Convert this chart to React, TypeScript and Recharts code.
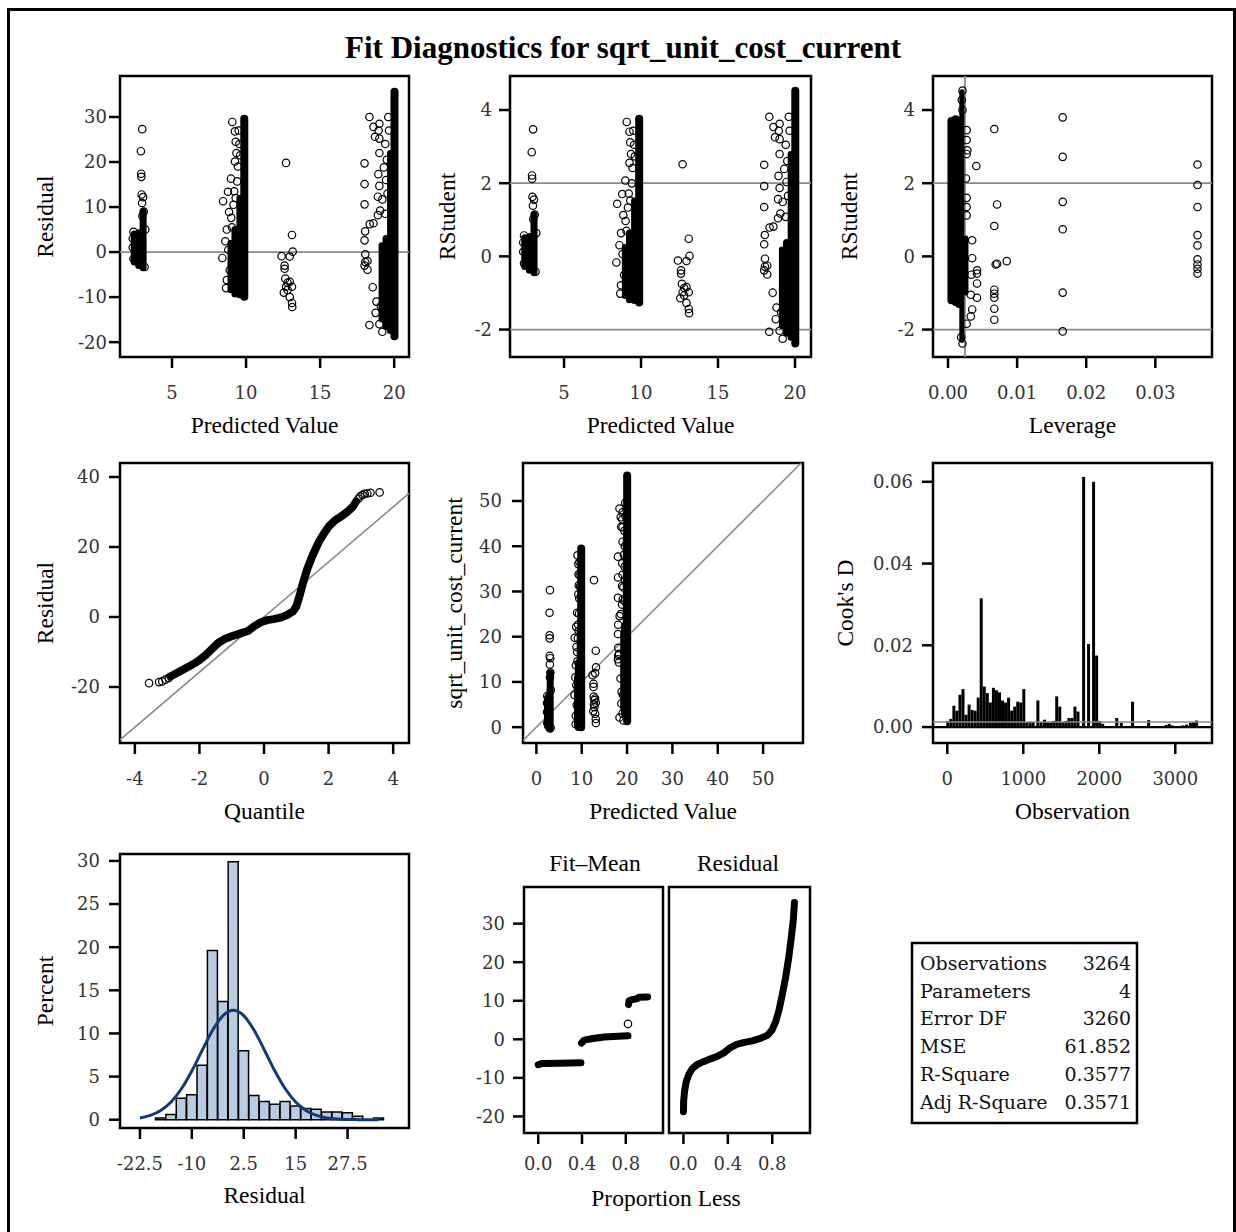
import React from 'react';
import {
  Bar,
  ComposedChart,
  Line,
  ReferenceArea,
  ReferenceLine,
  Scatter,
  ScatterChart,
  XAxis,
  YAxis,
} from 'recharts';

type Pt = [number, number];
// dense column of overlapping markers: x, low, high, stroke width
type Band = [number, number, number, number];

// ---------- fit statistics ----------
const statLabels = ['Observations', 'Parameters', 'Error DF', 'MSE', 'R-Square', 'Adj R-Square'];
const statValues = ['3264', '4', '3260', '61.852', '0.3577', '0.3571'];
const mse = 61.852;
const rootMse = Math.sqrt(mse);
const leverageCutoff = 0.00245;
const cookCutoff = 0.001225;

// ---------- tick values ----------
const predTicks = [5, 10, 15, 20];
const residTicks = [-20, -10, 0, 10, 20, 30];
const rstudTicks = [-2, 0, 2, 4];
const levTicks = [0, 0.01, 0.02, 0.03];
const qTicks = [-4, -2, 0, 2, 4];
const qqTicks = [-20, 0, 20, 40];
const obsTicks = [0, 10, 20, 30, 40, 50];
const cookXTicks = [0, 1000, 2000, 3000];
const cookYTicks = [0, 0.02, 0.04, 0.06];
const histXTicks = [-22.5, -10, 2.5, 15, 27.5];
const histYTicks = [0, 5, 10, 15, 20, 25, 30];
const propTicks = [0, 0.4, 0.8];
const spreadTicks = [-20, -10, 0, 10, 20, 30];

// ---------- residual by predicted value ----------
const residDense: Band[] = [
  [2.45, -2.2, 4.0, 7],
  [2.75, -3.0, 4.3, 7],
  [3.05, -3.5, 9.0, 7],
  [8.95, -8.5, 2.0, 6],
  [9.25, -9.3, 5.0, 7],
  [9.55, -9.6, 12.0, 6],
  [9.88, -9.9, 29.6, 8],
  [19.15, -15.0, 1.5, 6],
  [19.45, -16.5, 3.0, 7],
  [19.72, -17.5, 22.0, 6],
  [20.02, -18.7, 35.6, 8],
];
const residSparse: Pt[] = [
  [2.99, 27.3], [2.9, 22.4], [2.92, 17.4], [2.93, 16.7], [2.95, 12.8], [3.05, 12.2],
  [2.98, 10.9], [3.1, 9.0], [3.0, 8.0], [2.4, 4.5], [2.35, 3.0], [2.35, 1.0],
  [2.4, -1.5], [3.2, 5.0], [3.15, -3.3],
  [9.07, 28.9], [9.25, 26.8], [9.3, 24.5], [9.35, 22.0], [9.25, 20.1], [8.98, 16.3],
  [9.4, 15.7], [8.45, 11.3], [8.78, 13.4], [8.85, 8.9], [9.0, 7.6], [8.7, 5.0],
  [8.6, 2.4], [8.4, -1.3], [8.7, -6.2], [8.65, -8.0], [9.5, 27.0], [9.55, 24.0],
  [9.45, 19.0], [9.3, 12.0], [9.15, 10.5], [9.2, 13.5], [9.6, 21.5], [9.05, 5.5],
  [8.9, -4.0], [8.8, 0.5],
  [12.7, 19.8], [13.1, 3.8], [13.15, 0.1], [12.4, -0.9], [12.95, -1.0], [12.6, -3.0],
  [12.6, -3.7], [12.65, -5.9], [12.8, -6.8], [12.95, -6.6], [13.1, -7.7], [12.55, -9.0],
  [12.8, -8.4], [12.95, -10.0], [13.1, -11.3], [13.12, -12.2], [12.7, -7.7],
  [18.33, 30.0], [18.0, 19.7], [18.0, 15.1], [18.0, 10.6], [18.04, 4.6], [18.0, 2.6],
  [18.05, -0.5], [18.05, -2.2], [18.0, -3.0], [18.2, -3.9], [18.2, -2.0], [18.35, 6.2],
  [18.6, 6.4], [18.6, 27.8], [18.95, 27.0], [19.0, 28.5], [19.0, 25.2], [19.0, 22.0],
  [18.93, 17.3], [19.0, 14.7], [18.9, 12.3], [19.2, 11.7], [19.05, 9.2], [18.9, 8.2],
  [18.55, -7.8], [18.33, -16.2], [19.2, -17.7], [19.3, 18.8], [18.7, 25.6], [19.4, 24.0],
  [19.5, 20.5], [19.45, 16.0], [19.55, 13.0], [19.4, 8.5], [19.6, 30.0], [19.65, 27.0],
  [19.1, -12.0], [18.8, -11.0], [18.75, -13.5], [19.0, -16.0],
];

// ---------- RStudent by leverage ----------
const levDense: Band[] = [
  [0.0005, -1.2, 3.7, 8],
  [0.0011, -1.25, 3.75, 8],
  [0.0016, -1.3, 3.7, 8],
  [0.002, -2.3, 4.5, 5],
  [0.0026, -1.0, 0.5, 5],
];
const levSparse: Pt[] = [
  [0.0027, 3.45], [0.0027, 3.18], [0.0028, 2.9], [0.0027, 2.8], [0.0026, 2.13], [0.0027, 1.6],
  [0.0027, 1.35], [0.0027, 1.12], [0.0035, 0.44], [0.0035, -0.05], [0.0034, -0.5],
  [0.0033, -1.05], [0.0035, -1.45], [0.0033, -1.64], [0.0027, -1.84], [0.0019, -2.21],
  [0.0021, -2.38], [0.0021, 4.53], [0.002, 4.27], [0.0021, 4.0],
  [0.0041, 2.47], [0.0042, -0.38], [0.0042, -0.47], [0.0042, -0.74], [0.0042, -1.13],
  [0.0067, 3.48], [0.0071, 1.42], [0.0067, 0.83], [0.0071, -0.2], [0.0069, -0.22],
  [0.0085, -0.13], [0.0067, -0.91], [0.0067, -1.02], [0.0067, -1.13], [0.0067, -1.43],
  [0.0067, -1.73],
  [0.0166, 3.8], [0.0166, 2.72], [0.0166, 1.49], [0.0166, 0.74], [0.0166, -0.99], [0.0166, -2.05],
  [0.0361, 2.51], [0.0361, 1.95], [0.0361, 1.35], [0.0361, 0.58], [0.0361, 0.3],
  [0.0361, -0.08], [0.0361, -0.22], [0.0361, -0.34], [0.0361, -0.47],
];

// ---------- residual Q-Q ----------
const qqLowTail: Pt[] = [[-3.56, -18.9], [-3.25, -18.6], [-3.15, -18.4], [-3.05, -17.9], [-2.95, -17.4]];
const qqBody: Pt[] = [
  [-2.9, -17.0], [-2.5, -15.0], [-2.2, -13.5], [-2.0, -12.3], [-1.8, -10.8], [-1.6, -9.0],
  [-1.4, -7.3], [-1.2, -6.2], [-1.0, -5.5], [-0.8, -4.9], [-0.5, -4.0], [-0.3, -2.6],
  [-0.1, -1.5], [0.1, -0.9], [0.3, -0.6], [0.5, -0.2], [0.7, 0.5], [0.9, 1.6], [1.0, 3.0],
  [1.1, 6.0], [1.2, 9.5], [1.35, 14.0], [1.5, 17.5], [1.7, 21.5], [1.85, 23.8], [2.0, 25.8],
  [2.2, 27.6], [2.4, 28.8], [2.6, 30.2], [2.75, 31.5], [2.85, 33.0],
];
const qqHighTail: Pt[] = [[2.92, 33.8], [2.98, 34.5], [3.05, 34.9], [3.12, 35.2], [3.2, 35.3], [3.3, 35.5], [3.58, 35.6]];

// ---------- Cook's D by observation ----------
const cookObs = [
  7, 47, 87, 127, 167, 207, 247, 287, 327, 367, 407, 447, 487, 527, 567, 607, 647, 687, 727, 767,
  807, 847, 887, 927, 967, 1007, 1047, 1090, 1130, 1192, 1235, 1280, 1320, 1360, 1400, 1440, 1480,
  1520, 1560, 1600, 1640, 1680, 1720, 1794, 1859, 1925, 1965, 2005, 2045, 2230, 2290, 2438, 2650,
  2880, 2920, 2960, 3100, 3150, 3200, 3240, 3280,
];
const cookD = [
  0.0015, 0.002, 0.0052, 0.004, 0.0079, 0.0093, 0.003, 0.0055, 0.0042, 0.004, 0.0072, 0.0315,
  0.0099, 0.0083, 0.006, 0.0096, 0.009, 0.0085, 0.0065, 0.006, 0.0072, 0.004, 0.005, 0.0062,
  0.006, 0.0093, 0.0012, 0.0012, 0.0012, 0.0065, 0.0012, 0.0018, 0.0012, 0.0011, 0.0015, 0.0075,
  0.005, 0.0012, 0.0015, 0.0022, 0.0022, 0.005, 0.0038, 0.0612, 0.0203, 0.06, 0.0175, 0.0015,
  0.0008, 0.0022, 0.001, 0.0062, 0.0017, 0.0005, 0.0008, 0.0004, 0.0004, 0.0006, 0.001, 0.0012,
  0.0016,
];

// ---------- residual histogram ----------
const binMids = [-17.5, -15, -12.5, -10, -7.5, -5, -2.5, 0, 2.5, 5, 7.5, 10, 12.5, 15, 17.5, 20, 22.5, 25, 27.5, 30, 32.5, 35];
const binPct = [0.2, 0.6, 2.5, 2.9, 6.3, 19.6, 13.7, 29.9, 8.0, 2.8, 2.1, 1.8, 2.1, 1.6, 1.3, 1.2, 0.9, 0.9, 0.8, 0.4, 0, 0.2];
const normX = [-22.5, -20, -17.5, -15, -12.5, -10, -7.5, -5, -2.5, 0, 2.5, 5, 7.5, 10, 12.5, 15, 17.5, 20, 22.5, 25, 27.5, 30, 32.5, 35];
const normPct = [0.21, 0.5, 1.07, 2.06, 3.59, 5.65, 8.05, 10.37, 12.06, 12.69, 12.06, 10.37, 8.05, 5.65, 3.59, 2.06, 1.07, 0.5, 0.21, 0.08, 0.03, 0.01, 0, 0];

// ---------- residual-fit spread ----------
const fitLow: Pt[] = [[0.0, -6.6], [0.03, -6.3], [0.2, -6.2], [0.39, -6.1]];
const fitMid: Pt[] = [[0.395, -1.0], [0.42, -0.2], [0.5, 0.2], [0.6, 0.6], [0.82, 0.9]];
const fitOdd: Pt[] = [[0.82, 4.0]];
const fitHigh: Pt[] = [[0.825, 9.0], [0.83, 10.0], [0.86, 10.3], [0.9, 10.5], [0.92, 10.9], [1.0, 11.0]];
const residSpread: Pt[] = [
  [0.0, -18.8], [0.002, -16.0], [0.01, -13.5], [0.025, -11.0], [0.05, -9.0], [0.08, -7.6],
  [0.12, -6.6], [0.18, -5.8], [0.25, -5.0], [0.3, -4.5], [0.36, -3.6], [0.42, -2.2],
  [0.48, -1.3], [0.55, -0.8], [0.62, -0.4], [0.7, 0.3], [0.76, 1.1], [0.8, 2.5], [0.83, 4.5],
  [0.86, 7.5], [0.89, 11.5], [0.92, 16.0], [0.95, 21.5], [0.97, 26.0], [0.99, 31.0], [1.0, 35.5],
];

// ---------- layout ----------
interface Frame { x: number; y: number; w: number; h: number }
const YW = 100;
const XH = 85;
const PAD = 4;
const frames: Record<string, Frame> = {
  p1: { x: 120, y: 76, w: 289, h: 281 },
  p2: { x: 510, y: 76, w: 301, h: 281 },
  p3: { x: 933, y: 76, w: 279, h: 281 },
  p4: { x: 120, y: 463, w: 289, h: 280 },
  p5: { x: 523, y: 463, w: 280, h: 280 },
  p6: { x: 933, y: 463, w: 279, h: 280 },
  p7: { x: 120, y: 854, w: 289, h: 274 },
  p8a: { x: 524, y: 887, w: 139, h: 246 },
  p8b: { x: 669, y: 887, w: 141, h: 246 },
};

const tickFont = 'DejaVu Serif, serif';
const labelFont = 'Liberation Serif, serif';
const tickStyle = { fill: '#333', fontSize: 18, fontFamily: tickFont };
const tickLine = { stroke: '#000', strokeWidth: 2.5 };
const refGray = '#8a8a8a';

function box(f: Frame): React.CSSProperties {
  return { position: 'absolute', left: f.x - YW, top: f.y - PAD };
}
function size(f: Frame) {
  return {
    width: YW + f.w + PAD,
    height: PAD + f.h + XH,
    margin: { top: PAD, right: PAD, bottom: 0, left: 0 },
  };
}

function xAxis(domain: [number, number], ticks: number[], label?: string, labelOffset = 9.3, fmt?: (v: number) => string, margin = 18) {
  return (
    <XAxis
      type="number"
      dataKey="x"
      domain={domain}
      ticks={ticks}
      allowDataOverflow
      interval={0}
      axisLine={false}
      tickLine={tickLine}
      tickSize={11}
      tickMargin={margin}
      tick={tickStyle}
      tickFormatter={fmt}
      height={XH}
      label={
        label
          ? { value: label, position: 'insideBottom', offset: labelOffset, style: { fontFamily: labelFont, fontSize: 23.5, fill: '#000' } }
          : undefined
      }
    />
  );
}

function yAxis(domain: [number, number], ticks: number[], label: string | undefined, labelOffset: number, margin: number, fmt?: (v: number) => string, hidden = false) {
  return (
    <YAxis
      type="number"
      dataKey="y"
      domain={domain}
      ticks={ticks}
      allowDataOverflow
      interval={0}
      axisLine={false}
      tickLine={hidden ? false : tickLine}
      tick={hidden ? false : tickStyle}
      tickSize={11}
      tickMargin={margin}
      tickFormatter={fmt}
      width={YW}
      label={
        label
          ? {
              value: label,
              angle: -90,
              position: 'insideLeft',
              offset: labelOffset,
              style: { textAnchor: 'middle', fontFamily: labelFont, fontSize: 23.5, fill: '#000' },
            }
          : undefined
      }
    />
  );
}

const noDot = () => <g />;
const ring = (p: any) => <circle cx={p.cx} cy={p.cy} r={3.7} fill="none" stroke="#000" strokeWidth={1.2} />;

const toXY = (pts: Pt[]) => pts.map(([x, y]) => ({ x, y }));

function rings(pts: Pt[], key: string) {
  return <Scatter key={key} data={toXY(pts)} shape={ring} isAnimationActive={false} />;
}
function bands(list: Band[], key: string) {
  return list.map(([x, lo, hi, w], i) => (
    <Scatter
      key={`${key}-${i}`}
      data={[{ x, y: lo }, { x, y: hi }]}
      shape={noDot}
      line={{ stroke: '#000', strokeWidth: w, strokeLinecap: 'round' }}
      isAnimationActive={false}
    />
  ));
}
function trace(pts: Pt[], key: string, w: number) {
  return (
    <Scatter
      key={key}
      data={toXY(pts)}
      shape={noDot}
      line={{ stroke: '#000', strokeWidth: w, strokeLinecap: 'round', strokeLinejoin: 'round' }}
      isAnimationActive={false}
    />
  );
}
function frameRect(xd: [number, number], yd: [number, number]) {
  return (
    <ReferenceArea x1={xd[0]} x2={xd[1]} y1={yd[0]} y2={yd[1]} fill="none" stroke="#000" strokeWidth={2.5} ifOverflow="visible" />
  );
}

// derived series: studentized residual and observed response
const asRstudent = (pts: Pt[]): Pt[] => pts.map(([x, r]) => [x, r / rootMse]);
const asRstudentBands = (list: Band[]): Band[] => list.map(([x, lo, hi, w]) => [x, lo / rootMse, hi / rootMse, w]);
const asObserved = (pts: Pt[]): Pt[] => pts.map(([x, r]) => [x, x + r]);
const asObservedBands = (list: Band[]): Band[] => list.map(([x, lo, hi, w]) => [x, x + lo, x + hi, w]);

function ResidualPanel() {
  const f = frames.p1;
  const xd: [number, number] = [1.49, 21.0];
  const yd: [number, number] = [-23.3, 39.1];
  return (
    <div style={box(f)}>
      <ScatterChart {...size(f)}>
        {xAxis(xd, predTicks, 'Predicted Value')}
        {yAxis(yd, residTicks, 'Residual', 25, 2)}
        <ReferenceLine y={0} stroke={refGray} strokeWidth={1.8} />
        {bands(residDense, 'rd')}
        {rings(residSparse, 'rs')}
        {frameRect(xd, yd)}
      </ScatterChart>
    </div>
  );
}

function RStudentPanel() {
  const f = frames.p2;
  const xd: [number, number] = [1.49, 21.04];
  const yd: [number, number] = [-2.75, 4.93];
  return (
    <div style={box(f)}>
      <ScatterChart {...size(f)}>
        {xAxis(xd, predTicks, 'Predicted Value')}
        {yAxis(yd, rstudTicks, 'RStudent', 36.8, 7)}
        <ReferenceLine y={2} stroke={refGray} strokeWidth={1.8} />
        <ReferenceLine y={-2} stroke={refGray} strokeWidth={1.8} />
        {bands(asRstudentBands(residDense), 'sd')}
        {rings(asRstudent(residSparse), 'ss')}
        {frameRect(xd, yd)}
      </ScatterChart>
    </div>
  );
}

function LeveragePanel() {
  const f = frames.p3;
  const xd: [number, number] = [-0.00217, 0.0382];
  const yd: [number, number] = [-2.75, 4.93];
  return (
    <div style={box(f)}>
      <ScatterChart {...size(f)}>
        {xAxis(xd, levTicks, 'Leverage', 9.3, (v) => v.toFixed(2))}
        {yAxis(yd, rstudTicks, 'RStudent', 15.5, 7)}
        <ReferenceLine y={2} stroke={refGray} strokeWidth={1.8} />
        <ReferenceLine y={-2} stroke={refGray} strokeWidth={1.8} />
        {bands(levDense, 'ld')}
        {rings(levSparse, 'ls')}
        <ReferenceLine x={leverageCutoff} stroke={refGray} strokeWidth={1.8} />
        {frameRect(xd, yd)}
      </ScatterChart>
    </div>
  );
}

function QQPanel() {
  const f = frames.p4;
  const xd: [number, number] = [-4.46, 4.49];
  const yd: [number, number] = [-36, 44];
  return (
    <div style={box(f)}>
      <ScatterChart {...size(f)}>
        {xAxis(xd, qTicks, 'Quantile', 9)}
        {yAxis(yd, qqTicks, 'Residual', 25, 9)}
        <ReferenceLine
          segment={[{ x: xd[0], y: xd[0] * rootMse }, { x: xd[1], y: xd[1] * rootMse }]}
          stroke={refGray}
          strokeWidth={1.6}
          ifOverflow="visible"
        />
        {trace(qqBody, 'qb', 8)}
        {rings(qqLowTail, 'ql')}
        {rings(qqHighTail, 'qh')}
        {frameRect(xd, yd)}
      </ScatterChart>
    </div>
  );
}

function ObservedPanel() {
  const f = frames.p5;
  const xd: [number, number] = [-2.95, 58.8];
  const yd: [number, number] = [-3.5, 58.4];
  return (
    <div style={box(f)}>
      <ScatterChart {...size(f)}>
        {xAxis(xd, obsTicks, 'Predicted Value', 9)}
        {yAxis(yd, obsTicks, 'sqrt_unit_cost_current', 30.5, 10)}
        <ReferenceLine
          segment={[{ x: -2.95, y: -2.95 }, { x: 58.4, y: 58.4 }]}
          stroke={refGray}
          strokeWidth={1.6}
          ifOverflow="visible"
        />
        {bands(asObservedBands(residDense), 'od')}
        {rings(asObserved(residSparse), 'os')}
        {frameRect(xd, yd)}
      </ScatterChart>
    </div>
  );
}

function CookPanel() {
  const f = frames.p6;
  const xd: [number, number] = [-188, 3483];
  const yd: [number, number] = [-0.0039, 0.0646];
  const data = cookObs.map((x, i) => ({ x, d: cookD[i] }));
  return (
    <div style={box(f)}>
      <ComposedChart {...size(f)} data={data} barCategoryGap={0} barGap={0}>
        {xAxis(xd, cookXTicks, 'Observation', 9)}
        {yAxis(yd, cookYTicks, "Cook's D", 12, 9, (v) => v.toFixed(2))}
        <Bar dataKey="d" fill="#000" isAnimationActive={false} />
        <ReferenceLine y={cookCutoff} stroke={refGray} strokeWidth={1.6} />
        <ReferenceLine y={0} stroke="#000" strokeWidth={2.2} />
        {frameRect(xd, yd)}
      </ComposedChart>
    </div>
  );
}

function HistogramPanel() {
  const f = frames.p7;
  const xd: [number, number] = [-27.3, 42.3];
  const yd: [number, number] = [-0.96, 30.8];
  const data = binMids.map((x, i) => ({ x, pct: binPct[i] }));
  const curve = normX.map((x, i) => ({ x, dens: normPct[i] }));
  return (
    <div style={box(f)}>
      <ComposedChart {...size(f)} data={data} barCategoryGap={0} barGap={0}>
        {xAxis(xd, histXTicks, 'Residual', 9.7)}
        {yAxis(yd, histYTicks, 'Percent', 25, 9)}
        <Bar dataKey="pct" fill="#b8cce4" stroke="#000" strokeWidth={1.5} isAnimationActive={false} />
        <Line data={curve} dataKey="dens" type="monotone" stroke="#123a7a" strokeWidth={3} dot={false} isAnimationActive={false} />
        {frameRect(xd, yd)}
      </ComposedChart>
    </div>
  );
}

function SpreadPanel({ which }: { which: 'fit' | 'resid' }) {
  const f = which === 'fit' ? frames.p8a : frames.p8b;
  const xd: [number, number] = [-0.13, 1.14];
  const yd: [number, number] = [-24.3, 39.5];
  return (
    <div style={box(f)}>
      <ScatterChart {...size(f)}>
        {xAxis(xd, propTicks, undefined, 0, (v) => v.toFixed(1), 13)}
        {yAxis(yd, spreadTicks, undefined, 0, 8, undefined, which === 'resid')}
        {which === 'fit'
          ? [
              trace(fitLow, 'f1', 7),
              trace(fitMid, 'f2', 7),
              rings(fitOdd, 'f3'),
              trace(fitHigh, 'f4', 7),
            ]
          : [trace(residSpread, 'r1', 7)]}
        {frameRect(xd, yd)}
      </ScatterChart>
    </div>
  );
}

export default function App() {
  const serifLabel = { fontFamily: labelFont, fontSize: 23.5, fill: '#000' };
  return (
    <div
      style={{
        position: 'fixed',
        left: 0,
        top: 0,
        width: 1236,
        height: 1232,
        overflow: 'hidden',
        background: '#fff',
      }}
    >
      <div
        style={{
          position: 'absolute',
          left: 7,
          top: 8,
          width: 1229,
          height: 1240,
          border: '3px solid #000',
          boxSizing: 'border-box',
        }}
      />
      <ResidualPanel />
      <RStudentPanel />
      <LeveragePanel />
      <QQPanel />
      <ObservedPanel />
      <CookPanel />
      <HistogramPanel />
      <SpreadPanel which="fit" />
      <SpreadPanel which="resid" />
      <svg
        width={1236}
        height={1232}
        style={{ position: 'absolute', left: 0, top: 0, pointerEvents: 'none' }}
      >
        <text x={623} y={58} textAnchor="middle" fontFamily={labelFont} fontWeight="bold" fontSize={31}>
          Fit Diagnostics for sqrt_unit_cost_current
        </text>
        <text x={595} y={871} textAnchor="middle" {...serifLabel}>
          Fit–Mean
        </text>
        <text x={738} y={871} textAnchor="middle" {...serifLabel}>
          Residual
        </text>
        <text x={666} y={1206} textAnchor="middle" {...serifLabel}>
          Proportion Less
        </text>
        <rect x={912} y={943} width={225} height={180} fill="#fff" stroke="#000" strokeWidth={2.5} />
        {statLabels.map((s, i) => (
          <text key={s} x={920} y={970 + i * 27.7} fontFamily={tickFont} fontSize={19} fill="#111">
            {s}
          </text>
        ))}
        {statValues.map((v, i) => (
          <text key={`v${i}`} x={1131} y={970 + i * 27.7} textAnchor="end" fontFamily={tickFont} fontSize={19} fill="#111">
            {v}
          </text>
        ))}
      </svg>
    </div>
  );
}
